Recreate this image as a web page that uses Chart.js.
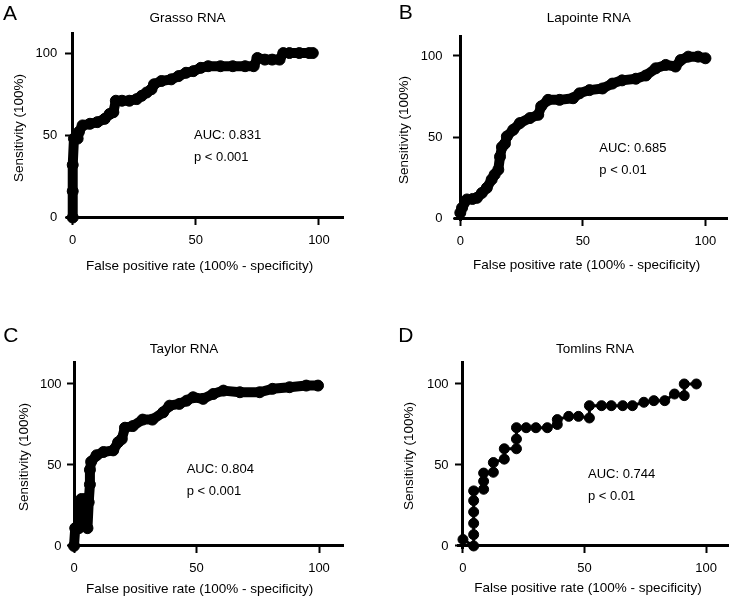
<!DOCTYPE html>
<html>
<head>
<meta charset="utf-8">
<script src="https://cdn.jsdelivr.net/npm/chart.js@4.4.1/dist/chart.umd.min.js"></script>
<style>
  body { margin: 0; background: #fff; }
  .panel { position: absolute; width: 367px; height: 299px; }
</style>
</head>
<body>
<div class="panel" style="left:0;top:0"><canvas id="chartA" width="367" height="299"></canvas></div>
<div class="panel" style="left:367px;top:0"><canvas id="chartB" width="367" height="299"></canvas></div>
<div class="panel" style="left:0;top:299px"><canvas id="chartC" width="367" height="299"></canvas></div>
<div class="panel" style="left:367px;top:299px"><canvas id="chartD" width="367" height="299"></canvas></div>
<script>
'use strict'

// values
var xTicks = [0, 50, 100];
var yTicks = [0, 50, 100];
var letters = ['A', 'B', 'C', 'D'];
var titles = ['Grasso RNA', 'Lapointe RNA', 'Taylor RNA', 'Tomlins RNA'];
var aucLabels = ['AUC: 0.831', 'AUC: 0.685', 'AUC: 0.804', 'AUC: 0.744'];
var pLabels = ['p < 0.001', 'p < 0.01', 'p < 0.001', 'p < 0.01'];
var xTitle = 'False positive rate (100% - specificity)';
var yTitle = 'Sensitivity (100%)';

var grassoFpr  = [0, 0, 0, 0.5, 2, 2.5, 4, 7, 10, 13, 15, 16.5, 17.5, 20, 23, 26, 28, 30, 32, 33, 36, 40, 43, 46, 49, 52, 55, 60, 65, 70, 73.5, 75, 78, 81, 84, 85.5, 88, 92, 96, 97.5];
var grassoSens = [0, 16, 32, 48, 48, 52, 56, 57, 58, 60, 63, 64, 71, 71, 71, 72, 74, 76, 78, 81, 83, 84, 86, 88, 89, 91, 92, 92, 92, 92, 92, 97, 96, 96, 96, 100, 100, 100, 100, 100];

var lapointeFpr  = [0, 0.7, 2.7, 5, 6.8, 8.8, 10.8, 12.8, 14, 15.5, 16.2, 17, 18.2, 19, 21.6, 24.3, 28.4, 31.8, 33, 35.8, 40.5, 46, 48.6, 52.7, 58, 62, 66, 71.6, 75.7, 79.7, 83.8, 87.8, 89.9, 93, 97, 100];
var lapointeSens = [3.5, 6.5, 11.7, 12, 12.7, 15.7, 18.8, 24, 27, 30, 38, 44, 46, 50.5, 54.6, 58.7, 61.8, 63.8, 69, 73, 73, 74, 77, 79, 80, 83, 85, 86, 88, 92.4, 94.5, 93.5, 97.5, 99.6, 99.6, 98.6];

var taylorFpr  = [0, 0.5, 2, 3, 4.5, 5.5, 6, 6.5, 6.5, 7, 9.2, 12, 16, 18, 19.5, 20.8, 24, 28, 32, 36.4, 39, 43, 46, 48.6, 52.7, 56.8, 61, 67.7, 75.8, 81, 88, 94.8, 99.6];
var taylorSens = [0, 11, 11, 29, 29, 11, 27, 38, 47, 52, 56, 58, 59, 64, 66, 73, 74, 78, 78, 82.5, 86.6, 87.7, 89.7, 91.8, 90.8, 93.8, 95.9, 94.9, 94.9, 97, 98, 99, 99];

var tomlinsFpr  = [0, 4.4, 4.4, 4.4, 4.4, 4.4, 4.4, 8.5, 8.5, 8.5, 12.5, 12.5, 17, 17, 22, 22, 22, 26, 30, 34.7, 38.8, 38.8, 43.5, 47.5, 52, 52, 57, 61, 65.7, 69.7, 74.4, 78.5, 83, 87, 91, 91, 96];
var tomlinsSens = [4, 0, 7, 14, 21, 28, 34, 35, 40, 45, 45.5, 51.5, 53.6, 60, 60, 66, 73, 73, 73, 73, 75, 78, 80, 80, 79, 86.6, 86.6, 86.6, 86.6, 86.6, 88.7, 89.7, 89.7, 93.8, 92.8, 100, 100];

var FONT = '"Liberation Sans", Arial, sans-serif';
var LABEL_W = 45;   // fixed width of the left label axis

// draws panel letter, title, axis titles and the AUC note
var panelText = {
    id: 'panelText',
    afterDraw: function(chart, args, o) {
        var ctx = chart.ctx;
        ctx.save();
        ctx.fillStyle = '#000';
        ctx.textBaseline = 'alphabetic';
        ctx.textAlign = 'left';
        ctx.font = '21px ' + FONT;
        ctx.fillText(o.letter, o.letterAt[0], o.letterAt[1]);

        ctx.textBaseline = 'middle';
        ctx.textAlign = 'center';
        ctx.font = '13.5px ' + FONT;
        ctx.fillText(o.title, o.titleAt[0], o.titleAt[1]);
        ctx.fillText(xTitle, o.xTitleAt[0], o.xTitleAt[1]);
        ctx.save();
        ctx.translate(o.yTitleAt[0], o.yTitleAt[1]);
        ctx.rotate(-Math.PI / 2);
        ctx.fillText(yTitle, 0, 0);
        ctx.restore();

        ctx.textBaseline = 'alphabetic';
        ctx.textAlign = 'left';
        ctx.font = '13px ' + FONT;
        ctx.fillText(o.auc, o.aucAt[0], o.aucAt[1]);
        ctx.fillText(o.p, o.aucAt[0], o.aucAt[1] + 21.5);
        ctx.restore();
    }
};

function fixedTicks(ticks) {
    return function(scale) {
        scale.ticks = ticks.map(function(v) { return { value: v }; });
    };
}

// axis line + tick marks, crossing at the origin
function axisLine(min, max, ticks, pos, showLabels) {
    return {
        type: 'linear',
        min: min,
        max: max,
        position: pos,
        afterBuildTicks: fixedTicks(ticks),
        grid: { drawOnChartArea: false, tickLength: 6, tickWidth: 2, tickColor: '#000' },
        border: { display: true, color: '#000', width: 3 },
        ticks: { display: showLabels, color: '#000', padding: 9, maxRotation: 0, font: { family: FONT, size: 13 } }
    };
}

function makePanel(id, i, fpr, sens, box, lay) {
    var pts = fpr.map(function(x, k) { return { x: x, y: sens[k] }; });
    var sparse = i === 3;
    return new Chart(document.getElementById(id), {
        type: 'scatter',
        data: {
            datasets: [{
                data: pts,
                showLine: true,
                borderColor: '#000',
                backgroundColor: '#000',
                borderWidth: sparse ? 3 : 10,
                borderJoinStyle: 'round',
                borderCapStyle: 'round',
                pointRadius: sparse ? 5 : 5.5,
                pointBorderWidth: 1,
                pointHoverRadius: 5,
                clip: false
            }]
        },
        options: {
            responsive: false,
            animation: false,
            layout: { padding: { left: box[0] - LABEL_W, top: box[1], right: 367 - box[2], bottom: 299 - box[3] } },
            scales: {
                x: axisLine(-2, lay.xmax, xTicks, { y: 0 }, true),
                y: axisLine(-1.5, lay.ymax, yTicks, { x: 0 }, false),
                yl: {
                    type: 'linear',
                    axis: 'y',
                    position: 'left',
                    min: -1.5,
                    max: lay.ymax,
                    afterBuildTicks: fixedTicks(yTicks),
                    afterFit: function(scale) { scale.width = LABEL_W; },
                    grid: { display: false, drawTicks: false },
                    border: { display: false },
                    ticks: { color: '#000', padding: lay.labelGap, font: { family: FONT, size: 13 } }
                }
            },
            plugins: {
                legend: { display: false },
                tooltip: { enabled: false },
                panelText: {
                    letter: letters[i], title: titles[i], auc: aucLabels[i], p: pLabels[i],
                    letterAt: lay.letterAt, titleAt: lay.titleAt, xTitleAt: lay.xTitleAt,
                    yTitleAt: lay.yTitleAt, aucAt: lay.aucAt
                }
            }
        },
        plugins: [panelText]
    });
}

makePanel('chartA', 0, grassoFpr, grassoSens, [67.8, 33.3, 343.6, 220],
    { xmax: 110, ymax: 112, labelGap: 10.5, letterAt: [3, 20], titleAt: [187.5, 18.3], xTitleAt: [199.7, 266.7], yTitleAt: [19, 128], aucAt: [194, 139] });
makePanel('chartB', 1, lapointeFpr, lapointeSens, [88.4, 36.5, 362.2, 220.9],
    { xmax: 109, ymax: 112, labelGap: 13, letterAt: [31.7, 19], titleAt: [221.7, 18.3], xTitleAt: [219.7, 265], yTitleAt: [37.5, 130], aucAt: [232.3, 152.3] });
makePanel('chartC', 2, taylorFpr, taylorSens, [69.1, 63.1, 343.5, 249.4],
    { xmax: 110, ymax: 113.5, labelGap: 7.5, letterAt: [3.3, 42.7], titleAt: [184, 50], xTitleAt: [199.7, 290], yTitleAt: [24, 158], aucAt: [186.7, 174] });
makePanel('chartD', 3, tomlinsFpr, tomlinsSens, [91.1, 63.1, 365.2, 249.4],
    { xmax: 109, ymax: 113.5, labelGap: 9.5, letterAt: [31.3, 42.7], titleAt: [228, 50], xTitleAt: [221, 289.3], yTitleAt: [42, 157], aucAt: [221, 179] });
</script>
</body>
</html>
